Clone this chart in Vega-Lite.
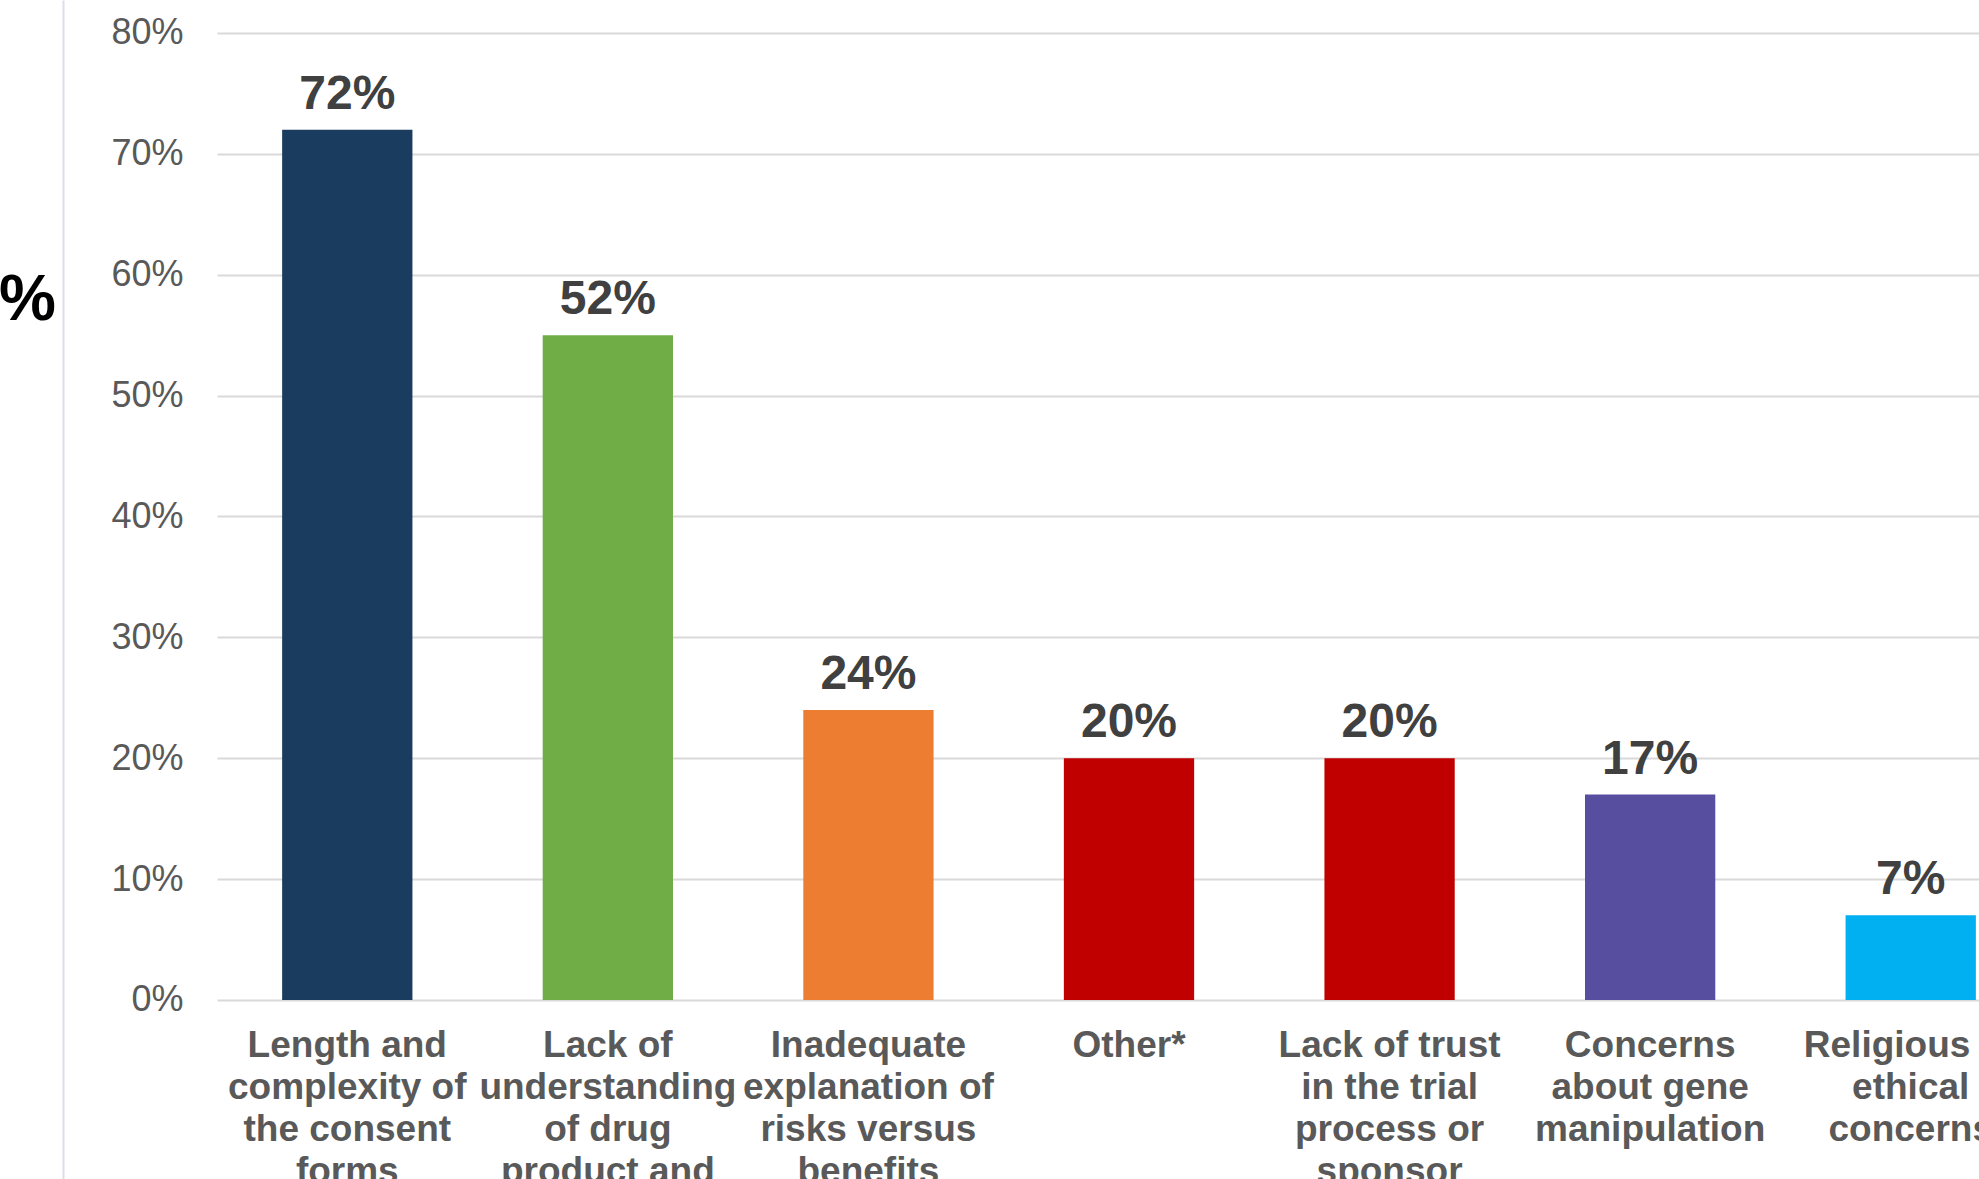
{
  "$schema": "https://vega.github.io/schema/vega-lite/v6.json",
  "autosize": {"type": "none"},
  "padding": {"left": 217, "top": 0, "right": 0, "bottom": 0},
  "width": 1762,
  "height": 1179,
  "background": "white",
  "config": {"view": {"stroke": null}, "font": "Liberation Sans"},
  "data": {
    "values": [
      {"reason": "Length and|complexity of|the consent|forms", "value": 0.72, "label": "72%"},
      {"reason": "Lack of|understanding|of drug|product and", "value": 0.55, "label": "52%"},
      {"reason": "Inadequate|explanation of|risks versus|benefits", "value": 0.24, "label": "24%"},
      {"reason": "Other*", "value": 0.20, "label": "20%"},
      {"reason": "Lack of trust|in the trial|process or|sponsor", "value": 0.20, "label": "20%"},
      {"reason": "Concerns|about gene|manipulation", "value": 0.17, "label": "17%"},
      {"reason": "Religious or|ethical|concerns", "value": 0.07, "label": "7%"}
    ]
  },
  "encoding": {
    "x": {
      "field": "reason",
      "type": "nominal",
      "sort": null,
      "scale": {"range": [0, 1824], "paddingInner": 0.5, "paddingOuter": 0.25},
      "axis": {
        "title": null,
        "orient": "bottom",
        "offset": -179,
        "domain": false,
        "ticks": false,
        "tickSize": 0,
        "grid": false,
        "labelPadding": 56,
        "labelBaseline": "alphabetic",
        "labelFont": "Liberation Sans",
        "labelFontSize": 37,
        "labelFontWeight": "bold",
        "labelColor": "#595959",
        "labelLineHeight": 42,
        "labelLimit": 0,
        "labelOverlap": false,
        "labelBound": false,
        "labelFlush": false,
        "labelAngle": 0,
        "labelExpr": "split(datum.label, '|')"
      }
    },
    "y": {
      "field": "value",
      "type": "quantitative",
      "scale": {"domain": [-0.1481, 0.8273], "nice": false, "zero": false},
      "axis": {
        "values": [0, 0.1, 0.2, 0.3, 0.4, 0.5, 0.6, 0.7, 0.8],
        "format": ".0%",
        "offset": 154,
        "ticks": false,
        "tickSize": 0,
        "labelPadding": -120,
        "labelAlign": "right",
        "labelBaseline": "middle",
        "labelFont": "Liberation Sans",
        "labelFontSize": 36,
        "labelColor": "#595959",
        "domainColor": "#dcdcef",
        "domainWidth": 2,
        "grid": true,
        "gridColor": "#d9d9d9",
        "gridWidth": 2,
        "title": "%",
        "titleAngle": 0,
        "titleX": -36,
        "titleY": 300,
        "titleFont": "Liberation Sans",
        "titleFontSize": 64,
        "titleFontWeight": "bold",
        "titleColor": "#000000",
        "titleAlign": "center",
        "titleBaseline": "middle"
      }
    }
  },
  "layer": [
    {
      "mark": {"type": "bar"},
      "encoding": {
        "y2": {"datum": 0},
        "color": {
          "field": "reason",
          "type": "nominal",
          "legend": null,
          "scale": {
            "domain": [
              "Length and|complexity of|the consent|forms",
              "Lack of|understanding|of drug|product and",
              "Inadequate|explanation of|risks versus|benefits",
              "Other*",
              "Lack of trust|in the trial|process or|sponsor",
              "Concerns|about gene|manipulation",
              "Religious or|ethical|concerns"
            ],
            "range": ["#193C5F", "#70AD47", "#ED7D31", "#C00000", "#C00000", "#584EA0", "#00B0F0"]
          }
        }
      }
    },
    {
      "mark": {
        "type": "text",
        "font": "Liberation Sans",
        "fontSize": 48,
        "fontWeight": "bold",
        "color": "#404040",
        "align": "center",
        "baseline": "alphabetic",
        "dy": -21
      },
      "encoding": {"text": {"field": "label", "type": "nominal"}}
    }
  ]
}
